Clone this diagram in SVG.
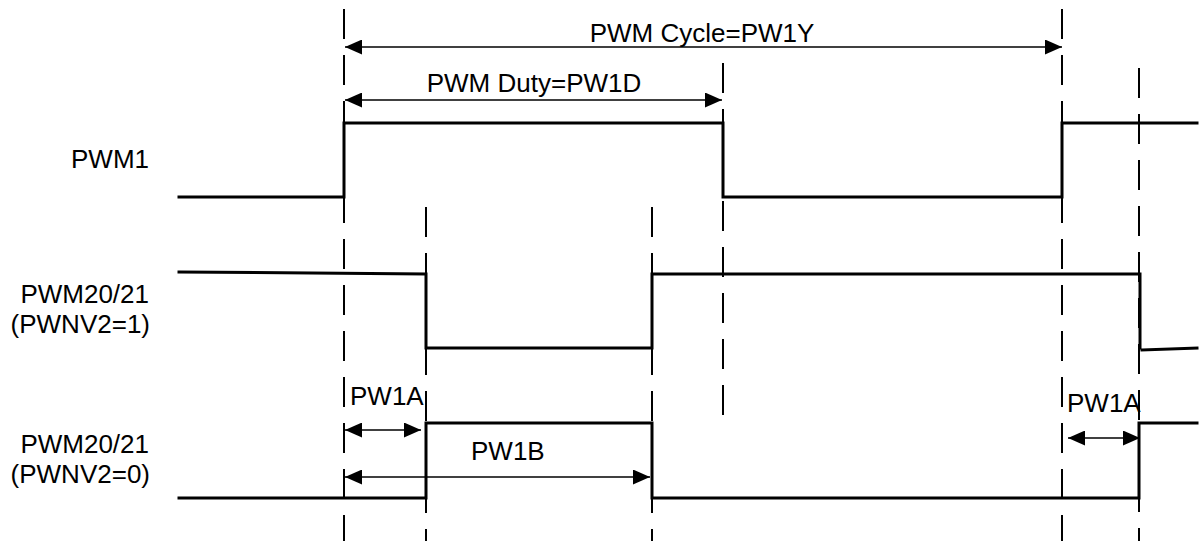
<svg xmlns="http://www.w3.org/2000/svg" width="1203" height="541" viewBox="0 0 1203 541">
<style>
.lbl{font-family:"Liberation Sans",Arial,sans-serif;font-size:26px;fill:#000}
.end{text-anchor:end}
.mid{text-anchor:middle}
.guide{stroke:#000;stroke-width:2;stroke-dasharray:30 16;fill:none}
.wave{stroke:#000;stroke-width:3;fill:none;stroke-linejoin:miter;stroke-linecap:square}
.dim{stroke:#000;stroke-width:1.6;fill:none;marker-start:url(#ah);marker-end:url(#ah)}
</style>
<defs>
<marker id="ah" viewBox="0 0 17 15" refX="17" refY="7.5" markerWidth="17" markerHeight="15" markerUnits="userSpaceOnUse" orient="auto-start-reverse">
<path d="M0,0 L17,7.5 L0,15 Z" fill="#000"/>
</marker>
</defs>
<rect width="1203" height="541" fill="#fff"/>
<g id="guides">
<line class="guide" x1="344" y1="9" x2="344" y2="541"/>
<line class="guide" x1="723" y1="63" x2="723" y2="415"/>
<line class="guide" x1="426" y1="207" x2="426" y2="541"/>
<line class="guide" x1="652" y1="207" x2="652" y2="541"/>
<line class="guide" x1="1062" y1="9" x2="1062" y2="541"/>
<line class="guide" x1="1139" y1="68" x2="1139" y2="541"/>
</g>
<g id="labels">
<text id="lbl-pwm1" class="lbl end" x="149" y="168">PWM1</text>
<g id="lbl-pwm2021-1"><text class="lbl end" x="149" y="303">PWM20/21</text><text class="lbl end" x="150" y="333">(PWNV2=1)</text></g>
<g id="lbl-pwm2021-0"><text class="lbl end" x="149" y="453">PWM20/21</text><text class="lbl end" x="150" y="483">(PWNV2=0)</text></g>
</g>
<g id="waveforms">
<polyline id="wave-pwm1" class="wave" points="179,197 344,197 344,123 723,123 723,197 1062,197 1062,123 1197,123"/>
<polyline id="wave-pwnv2-1" class="wave" points="179,272 426,274 426,348 652,348 652,274 1140,274 1140,348"/>
<line class="wave" x1="1142" y1="350" x2="1197" y2="348"/>
<polyline id="wave-pwnv2-0" class="wave" points="179,498 426,498 426,423 652,423 652,498 1139,498 1139,423 1197,423"/>
</g>
<g id="connectors">
<line class="dim" x1="345" y1="47" x2="1062" y2="47"/>
<line class="dim" x1="345" y1="100" x2="722" y2="100"/>
<line class="dim" x1="345" y1="430" x2="421" y2="430"/>
<line class="dim" x1="345" y1="477" x2="650" y2="477"/>
<line class="dim" x1="1068" y1="438" x2="1140" y2="438"/>
</g>
<g id="dim-labels">
<text class="lbl mid" x="702" y="42">PWM Cycle=PW1Y</text>
<text class="lbl mid" x="534" y="92">PWM Duty=PW1D</text>
<text class="lbl" x="350" y="405">PW1A</text>
<text class="lbl" x="471" y="460">PW1B</text>
<text class="lbl" x="1067" y="412">PW1A</text>
</g>
</svg>
